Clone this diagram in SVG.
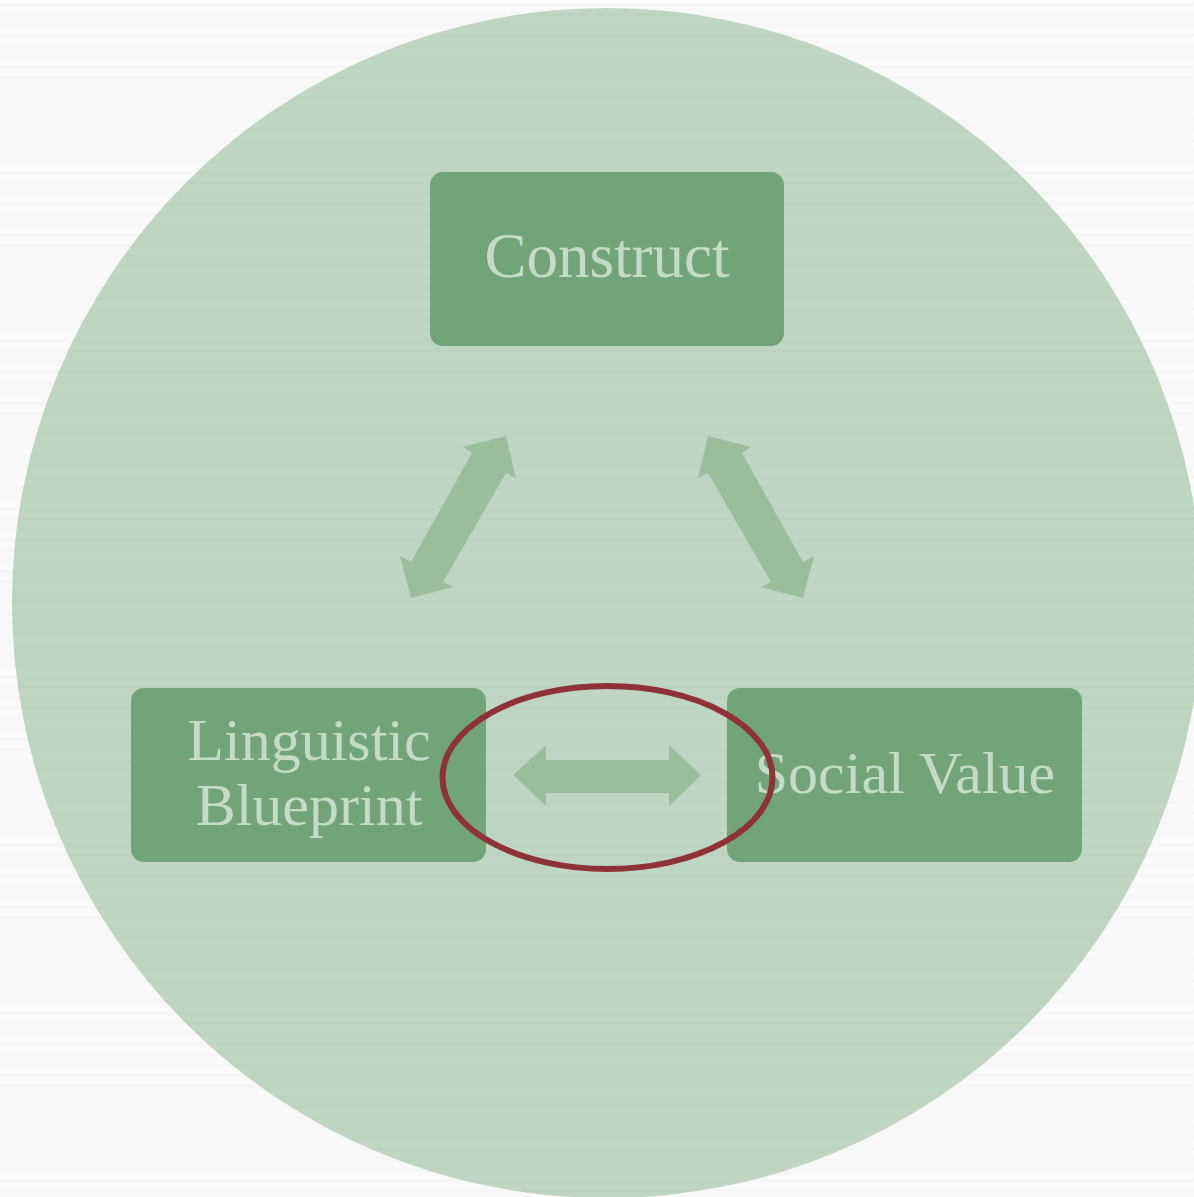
<svg xmlns="http://www.w3.org/2000/svg" width="1194" height="1197" viewBox="0 0 1194 1197">
  <defs>
    <pattern id="zig" width="8" height="10.5" patternUnits="userSpaceOnUse">
      <path d="M0,6 L2,3 L4,6 L6,3 L8,6" fill="none" stroke="#000" stroke-opacity="0.02" stroke-width="1"/>
    </pattern>
    <polygon id="diag" points="506,436 516,478 506,473 443,582 453,587 411,598 400,556 411,562 472,453 463,447"/>
  </defs>
  <style>
    .box { fill: #72a47a; }
    .lbl { font-family: "Liberation Serif", "Times New Roman", serif; fill: #c2dcc6; text-anchor: middle; }
    .arrow { fill: #9bbd9c; }
  </style>
  <rect width="1194" height="1197" fill="#f9f9f9"/>
  <circle cx="607" cy="603" r="595" fill="#bfd6c2"/>
  <rect width="1194" height="1197" fill="url(#zig)"/>

  <g id="connectors">
    <use href="#diag" class="arrow"/>
    <use href="#diag" class="arrow" transform="translate(1214,0) scale(-1,1)"/>
    <polygon class="arrow" points="513,775 546,745 546,760 669,760 669,745 701,775 669,806 669,793 546,793 546,806"/>
  </g>

  <g id="node-construct">
    <rect class="box" x="430" y="172" width="354" height="174" rx="13"/>
    <text class="lbl" x="607" y="277" font-size="63">Construct</text>
  </g>

  <g id="node-linguistic-blueprint">
    <rect class="box" x="131" y="688" width="355" height="174" rx="13"/>
    <text class="lbl" x="309" y="760" font-size="60">Linguistic</text>
    <text class="lbl" x="309" y="825" font-size="60">Blueprint</text>
  </g>

  <g id="node-social-value">
    <rect class="box" x="727" y="688" width="355" height="174" rx="13"/>
    <text class="lbl" x="905" y="793" font-size="60">Social Value</text>
  </g>

  <g id="highlight">
    <ellipse cx="607.5" cy="777.5" rx="165" ry="91.5" fill="none" stroke="#8f3238" stroke-width="6"/>
  </g>
</svg>
